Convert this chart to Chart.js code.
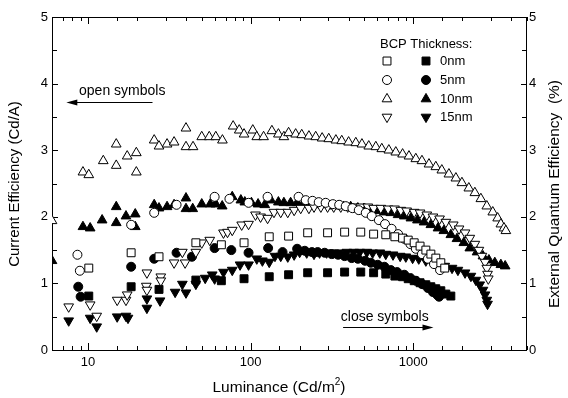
<!DOCTYPE html>
<html>
<head>
<meta charset="utf-8">
<script src="https://cdn.jsdelivr.net/npm/chart.js@4.4.0/dist/chart.umd.min.js"></script>
<style>
  html, body { margin: 0; padding: 0; background: #fff; }
  #wrap { width: 568px; height: 398px; }
</style>
</head>
<body>
<div id="wrap"><canvas id="grafico"></canvas></div>
<script>
// Luminance (Cd/m2) vs current efficiency (Cd/A), one pair of arrays per series
// 0nm BCP
const lum0Open = [10.1, 18.4, 27.3, 46, 66, 91, 130, 171, 224, 297, 378, 475, 570, 677, 770, 859, 930, 1012, 1100, 1194, 1282, 1375, 1476, 1560];
const ce0Open  = [1.23, 1.46, 1.40, 1.61, 1.58, 1.61, 1.70, 1.71, 1.76, 1.76, 1.77, 1.77, 1.74, 1.73, 1.70, 1.68, 1.65, 1.61, 1.56, 1.50, 1.44, 1.38, 1.31, 1.23];
const lum0Close = [10.1, 18.4, 27.3, 46, 66, 91, 130, 171, 224, 297, 378, 475, 570, 677, 770, 859, 930, 1012, 1100, 1194, 1282, 1375, 1476, 1585, 1701];
const ce0Close  = [0.81, 0.95, 0.91, 1.05, 1.04, 1.07, 1.10, 1.13, 1.16, 1.16, 1.17, 1.17, 1.16, 1.14, 1.11, 1.10, 1.07, 1.04, 1.01, 0.98, 0.95, 0.92, 0.89, 0.84, 0.81];

// 5nm BCP
const lum5Open = [8.6, 8.9, 18.4, 25.5, 35, 60, 74, 97, 127, 197, 218, 240, 262, 289, 320, 350, 384, 422, 462, 510, 555, 614, 670, 735, 806, 880, 960, 1036, 1130, 1230, 1340, 1460];
const ce5Open  = [1.43, 1.19, 1.88, 2.06, 2.18, 2.30, 2.27, 2.21, 2.30, 2.30, 2.25, 2.24, 2.22, 2.21, 2.19, 2.18, 2.16, 2.13, 2.10, 2.06, 2.01, 1.95, 1.89, 1.82, 1.74, 1.67, 1.59, 1.52, 1.44, 1.37, 1.29, 1.20];
const lum5Close = [8.7, 9.0, 18.4, 25.5, 35, 43.5, 60, 76, 97, 128, 157, 193, 215, 238, 258, 285, 315, 345, 378, 418, 456, 505, 548, 604, 664, 727, 795, 880, 960, 1036, 1130, 1230, 1320, 1400, 1440];
const ce5Close  = [0.95, 0.80, 1.25, 1.37, 1.46, 1.40, 1.53, 1.50, 1.46, 1.53, 1.47, 1.52, 1.49, 1.47, 1.47, 1.46, 1.44, 1.43, 1.41, 1.38, 1.37, 1.34, 1.31, 1.28, 1.25, 1.20, 1.17, 1.13, 1.08, 1.04, 0.99, 0.93, 0.87, 0.83, 0.80];

// 10nm BCP
const lum10Open = [6.0, 9.3, 10.1, 12.4, 14.9, 14.9, 17.4, 19.8, 19.8, 25.5, 27.3, 30.6, 33.8, 40, 40, 44.2, 50, 55.6, 61, 67, 78, 85, 91, 103, 109, 120, 135, 148, 160, 171,
  189, 206, 228, 251, 275, 302, 334, 363, 400, 443, 483, 532, 588, 640, 707, 780, 859, 940, 1036, 1130, 1248, 1375, 1497, 1655, 1827, 1990, 2194, 2390, 2602, 2830, 3080, 3300, 3454, 3610, 3707];
const ce10Open  = [1.94, 2.67, 2.63, 2.84, 2.77, 3.09, 2.91, 2.96, 2.67, 3.15, 3.06, 3.09, 3.12, 3.33, 3.05, 3.05, 3.20, 3.20, 3.20, 3.15, 3.36, 3.30, 3.24, 3.30, 3.20, 3.20, 3.29, 3.24, 3.20, 3.26,
  3.24, 3.23, 3.21, 3.20, 3.18, 3.17, 3.15, 3.14, 3.12, 3.11, 3.09, 3.06, 3.05, 3.02, 3.00, 2.97, 2.94, 2.91, 2.87, 2.84, 2.79, 2.75, 2.70, 2.64, 2.58, 2.51, 2.43, 2.36, 2.27, 2.16, 2.07, 1.98, 1.89, 1.83, 1.79];
const lum10Close = [6.0, 9.3, 10.3, 12.2, 14.9, 14.9, 17.1, 19.5, 19.5, 25.5, 27.3, 30.6, 33.8, 40, 40, 44, 50, 56.4, 61, 66.8, 77, 87, 92, 101, 111, 122, 133, 148, 160, 176,
  193, 210, 234, 258, 280, 311, 342, 372, 412, 456, 497, 548, 604, 664, 727, 806, 880, 966, 1060, 1164, 1282, 1418, 1540, 1701, 1855, 2044, 2225, 2465, 2680, 2915, 3170, 3454, 3670];
const ce10Close  = [1.34, 1.85, 1.83, 1.95, 2.15, 1.91, 2.01, 2.04, 1.85, 2.18, 2.13, 2.15, 2.18, 2.28, 2.12, 2.12, 2.19, 2.19, 2.19, 2.16, 2.30, 2.25, 2.22, 2.21, 2.19, 2.18, 2.25, 2.22, 2.21, 2.21,
  2.21, 2.19, 2.19, 2.18, 2.18, 2.16, 2.16, 2.15, 2.15, 2.13, 2.12, 2.10, 2.09, 2.07, 2.06, 2.03, 2.01, 1.98, 1.95, 1.92, 1.88, 1.83, 1.79, 1.73, 1.67, 1.61, 1.53, 1.47, 1.41, 1.35, 1.31, 1.28, 1.26];

// 15nm BCP
const lum15Open = [7.6, 10.3, 11.3, 15.1, 17.1, 17.4, 22.8, 23, 23, 28, 28, 33.8, 38, 39.5, 46, 50, 56, 68, 72, 77, 88, 97, 107, 115, 127, 139, 153, 169, 185, 203,
  228, 245, 270, 297, 324, 358, 395, 430, 475, 525, 570, 631, 700, 766, 838, 910, 1012, 1100, 1210, 1320, 1450, 1585, 1760, 1910, 2080, 2225, 2390, 2530, 2640, 2760, 2830, 2860, 2890];
const ce15Open  = [0.65, 0.68, 0.51, 0.75, 0.75, 0.83, 0.96, 1.16, 0.90, 1.10, 1.04, 1.31, 1.47, 1.31, 1.47, 1.61, 1.65, 1.76, 1.77, 1.80, 1.88, 1.89, 2.03, 2.00, 1.98, 2.07, 2.07, 2.07, 2.10, 2.13,
  2.13, 2.15, 2.15, 2.15, 2.15, 2.15, 2.15, 2.15, 2.15, 2.15, 2.13, 2.13, 2.12, 2.12, 2.10, 2.09, 2.07, 2.06, 2.03, 2.00, 1.97, 1.92, 1.88, 1.82, 1.76, 1.68, 1.59, 1.50, 1.41, 1.32, 1.23, 1.14, 1.07];
const lum15Close = [7.6, 10.3, 11.3, 15.1, 17.1, 17.6, 23, 23, 27.7, 34.3, 38, 40, 46, 52.5, 58, 60, 68, 77, 86, 97, 109, 118, 130, 141, 153, 169, 185, 200, 221, 245,
  265, 293, 324, 350, 390, 430, 468, 518, 562, 622, 677, 750, 830, 899, 990, 1080, 1194, 1300, 1430, 1560, 1730, 1880, 2080, 2260, 2425, 2560, 2680, 2760, 2830, 2860];
const ce15Close  = [0.44, 0.48, 0.35, 0.50, 0.51, 0.48, 0.77, 0.63, 0.74, 0.87, 0.99, 0.86, 0.99, 1.08, 1.13, 1.07, 1.17, 1.20, 1.28, 1.28, 1.37, 1.34, 1.32, 1.41, 1.41, 1.40, 1.43, 1.47, 1.46, 1.44,
  1.46, 1.46, 1.46, 1.46, 1.47, 1.47, 1.47, 1.47, 1.46, 1.46, 1.44, 1.43, 1.41, 1.40, 1.38, 1.37, 1.34, 1.32, 1.29, 1.26, 1.23, 1.20, 1.16, 1.11, 1.05, 0.98, 0.90, 0.83, 0.75, 0.69];

const thicknessLabels = ['0nm', '5nm', '10nm', '15nm'];
const xTickLabels = [10, 100, 1000];
const yTickLabels = [0, 1, 2, 3, 4, 5];

const FONT = "'Liberation Sans', Arial, Helvetica, sans-serif";
Chart.defaults.font.family = FONT;
Chart.defaults.color = '#000';

function pares(xs, ys) {
  return xs.map((x, i) => ({ x, y: ys[i] }));
}

// forma de cada espessura
const estilos = [
  { style: 'rect', radius: 5.6, rot: 0 },
  { style: 'circle', radius: 4.5, rot: 0 },
  { style: 'triangle', radius: 5.6, rot: 0 },
  { style: 'triangle', radius: 5.6, rot: 180 }
];

function serie(xs, ys, idx, cheio) {
  const e = estilos[idx];
  return {
    data: pares(xs, ys),
    showLine: false,
    pointStyle: e.style,
    pointRadius: e.radius,
    pointRotation: e.rot,
    pointBorderWidth: 1,
    pointBorderColor: '#000',
    pointBackgroundColor: cheio ? '#000' : '#fff'
  };
}

// desenha um marcador (legenda)
function marcador(ctx, idx, x, y, cheio) {
  const e = estilos[idx];
  const r = e.radius;
  ctx.save();
  ctx.fillStyle = cheio ? '#000' : '#fff';
  ctx.strokeStyle = '#000';
  ctx.lineWidth = 1;
  ctx.beginPath();
  if (e.style === 'circle') {
    ctx.arc(x, y, r, 0, Math.PI * 2);
  } else if (e.style === 'rect') {
    const s = r * Math.SQRT1_2;
    ctx.rect(x - s, y - s, 2 * s, 2 * s);
  } else {
    let rad = e.rot * Math.PI / 180;
    ctx.moveTo(x + Math.sin(rad) * r, y - Math.cos(rad) * r);
    rad += 2 * Math.PI / 3;
    ctx.lineTo(x + Math.sin(rad) * r, y - Math.cos(rad) * r);
    rad += 2 * Math.PI / 3;
    ctx.lineTo(x + Math.sin(rad) * r, y - Math.cos(rad) * r);
    ctx.closePath();
  }
  ctx.fill();
  ctx.stroke();
  ctx.restore();
}

function seta(ctx, x1, x2, y) {
  // linha de x1 até x2 com ponta em x2
  const dir = Math.sign(x2 - x1);
  ctx.save();
  ctx.strokeStyle = '#000';
  ctx.fillStyle = '#000';
  ctx.lineWidth = 1;
  ctx.beginPath();
  ctx.moveTo(x1, y + 0.5);
  ctx.lineTo(x2 - dir * 8, y + 0.5);
  ctx.stroke();
  ctx.beginPath();
  ctx.moveTo(x2, y + 0.5);
  ctx.lineTo(x2 - dir * 11, y - 2.5);
  ctx.lineTo(x2 - dir * 11, y + 3.5);
  ctx.closePath();
  ctx.fill();
  ctx.restore();
}

// texto girado (lido de baixo para cima)
function textoVertical(ctx, txt, x, y, size) {
  ctx.save();
  ctx.translate(x, y);
  ctx.rotate(-Math.PI / 2);
  ctx.font = size + 'px ' + FONT;
  ctx.textAlign = 'center';
  ctx.textBaseline = 'middle';
  ctx.fillText(txt, 0, 0);
  ctx.restore();
}

/* =========================
   Moldura + ticks internos
   ========================= */
const moldura = {
  id: 'moldura',
  beforeDatasetsDraw(chart) {
    const { ctx, chartArea: a, scales } = chart;
    ctx.save();
    ctx.strokeStyle = '#000';
    ctx.lineWidth = 1;
    ctx.strokeRect(Math.round(a.left) + 0.5, Math.round(a.top) + 0.5,
      Math.round(a.right - a.left) - 1, Math.round(a.bottom - a.top));
    ctx.beginPath();
    scales.x.ticks.forEach(t => {
      const px = Math.round(scales.x.getPixelForValue(t.value)) + 0.5;
      const lg = Math.log10(t.value);
      const len = Math.abs(lg - Math.round(lg)) < 1e-6 ? 7 : 4;
      ctx.moveTo(px, a.bottom);
      ctx.lineTo(px, a.bottom - len);
      ctx.moveTo(px, a.top);
      ctx.lineTo(px, a.top + len);
    });
    scales.y.ticks.forEach(t => {
      const py = Math.round(scales.y.getPixelForValue(t.value)) + 0.5;
      const len = Number.isInteger(t.value) ? 6 : 5;
      ctx.moveTo(a.left, py);
      ctx.lineTo(a.left + len, py);
      ctx.moveTo(a.right, py);
      ctx.lineTo(a.right - len, py);
    });
    ctx.stroke();
    ctx.restore();
  }
};

/* =========================
   Títulos, legenda, anotações
   ========================= */
const notas = {
  id: 'notas',
  afterDatasetsDraw(chart) {
    const { ctx, scales } = chart;
    const xs = scales.x, ys = scales.y;
    ctx.save();
    ctx.fillStyle = '#000';

    // títulos dos eixos
    textoVertical(ctx, 'Current Efficiency (Cd/A)', 15, 184, 15);
    textoVertical(ctx, 'External Quantum Efficiency  (%)', 555, 194, 15.5);

    ctx.textBaseline = 'middle';
    ctx.textAlign = 'left';
    const f1 = '15.5px ' + FONT, f2 = '10px ' + FONT;
    ctx.font = f1;
    const w1 = ctx.measureText('Luminance (Cd/m').width;
    const w3 = ctx.measureText(')').width;
    ctx.font = f2;
    const w2 = ctx.measureText('2').width;
    let x0 = 279 - (w1 + w2 + w3) / 2;
    ctx.font = f1;
    ctx.fillText('Luminance (Cd/m', x0, 388);
    ctx.font = f2;
    ctx.fillText('2', x0 + w1, 382);
    ctx.font = f1;
    ctx.fillText(')', x0 + w1 + w2, 388);

    // legenda
    ctx.font = '13px ' + FONT;
    ctx.fillText('BCP Thickness:', 380, 44);
    const linhas = [61, 80, 99, 117];
    thicknessLabels.forEach((lab, i) => {
      marcador(ctx, i, 387, linhas[i], false);
      marcador(ctx, i, 426, linhas[i], true);
      ctx.fillText(lab, 440, linhas[i]);
    });

    ctx.font = '14px ' + FONT;
    ctx.fillText('open symbols', xs.getPixelForValue(8.8), ys.getPixelForValue(3.89));
    seta(ctx, xs.getPixelForValue(24.9), xs.getPixelForValue(7.35), Math.round(ys.getPixelForValue(3.72)));
    ctx.fillText('close symbols', xs.getPixelForValue(358), ys.getPixelForValue(0.5));
    seta(ctx, xs.getPixelForValue(370), xs.getPixelForValue(1330), Math.round(ys.getPixelForValue(0.35)));
    ctx.restore();
  }
};

const ctx = document.getElementById('grafico').getContext('2d');
const grafico = new Chart(ctx, {
  type: 'scatter',
  data: {
    datasets: [
      serie(lum0Open, ce0Open, 0, false),
      serie(lum5Open, ce5Open, 1, false),
      serie(lum15Open, ce15Open, 3, false),
      serie(lum10Open, ce10Open, 2, false),
      serie(lum0Close, ce0Close, 0, true),
      serie(lum5Close, ce5Close, 1, true),
      serie(lum15Close, ce15Close, 3, true),
      serie(lum10Close, ce10Close, 2, true)
    ]
  },
  options: {
    responsive: true,
    maintainAspectRatio: false,
    animation: false,
    events: [],
    layout: { padding: { top: 17, left: 0, right: 0, bottom: 0 } },
    plugins: { legend: { display: false }, tooltip: { enabled: false } },
    scales: {
      x: {
        type: 'logarithmic',
        min: 6,
        max: 5000,
        grid: { display: false, drawTicks: false },
        border: { display: false },
        ticks: {
          autoSkip: false,
          maxRotation: 0,
          padding: 5,
          font: { size: 13 },
          callback: v => xTickLabels.includes(Math.round(v)) && Math.abs(v - Math.round(v)) < 1e-6 ? String(Math.round(v)) : ''
        },
        afterFit: s => { s.height = 48; }
      },
      y: {
        position: 'left',
        min: 0,
        max: 5,
        grid: { display: false, drawTicks: false },
        border: { display: false },
        ticks: {
          stepSize: 0.5,
          padding: 4,
          font: { size: 13 },
          callback: v => yTickLabels.includes(v) ? String(v) : ''
        },
        afterFit: s => { s.width = 52; }
      },
      y2: {
        position: 'right',
        min: 0,
        max: 5,
        grid: { display: false, drawTicks: false },
        border: { display: false },
        ticks: {
          stepSize: 0.5,
          padding: 2,
          font: { size: 13 },
          callback: v => yTickLabels.includes(v) ? String(v) : ''
        },
        afterFit: s => { s.width = 41; }
      }
    }
  },
  plugins: [moldura, notas]
});
</script>
</body>
</html>
